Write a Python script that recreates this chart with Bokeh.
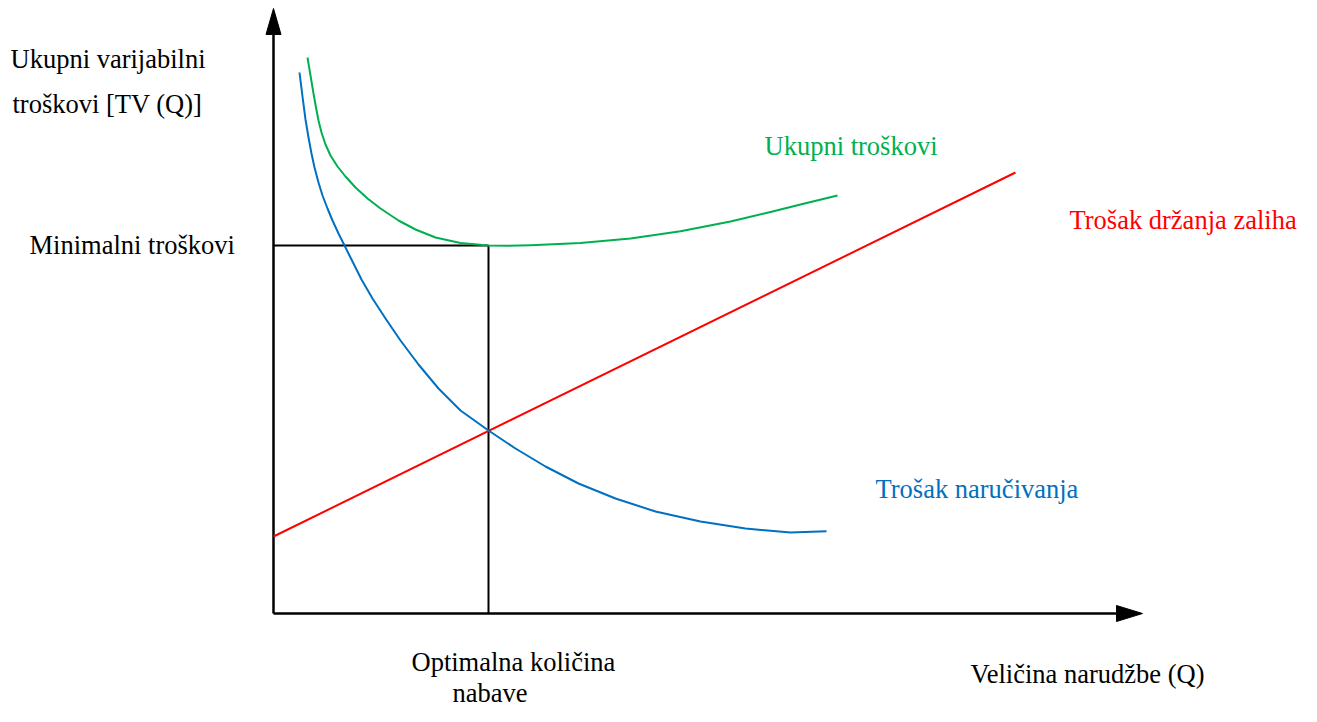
from bokeh.plotting import figure
from bokeh.models import Range1d
from bokeh.embed import file_html
from bokeh.resources import INLINE
from bokeh.core.properties import value

# ---- data (Q = order quantity, cost in arbitrary units) ----
order_q = [2.6, 2.9, 3.2, 3.5, 3.8, 4.1, 4.5, 4.9, 5.4, 5.9, 6.5, 7.1, 7.9, 8.8, 9.9,
           11.2, 12.7, 14.5, 16.5, 18.7, 21.5, 24.2, 27.2, 30.5, 34.2, 38.2, 42.7,
           47.2, 51.7, 55.3]
order_cost = [54.1, 51.7, 49.4, 47.6, 46.0, 44.6, 43.1, 41.8, 40.5, 39.3, 38.0, 36.8,
              35.2, 33.4, 31.5, 29.5, 27.3, 24.9, 22.5, 20.3, 18.3, 16.5, 14.7, 13.0,
              11.5, 10.2, 9.2, 8.5, 8.1, 8.23]

hold_q = [0.0, 74.2]
hold_cost = [7.7, 44.1]

total_q = [3.4, 3.7, 4.0, 4.25, 4.5, 4.8, 5.2, 5.7, 6.4, 7.2, 8.2, 9.4, 10.7, 12.5,
           14.2, 16.2, 18.7, 21.5, 23.5, 25.7, 30.7, 35.7, 40.7, 45.7, 49.7, 52.7, 56.4]
total_cost = [55.6, 53.8, 52.0, 50.6, 49.3, 48.1, 46.9, 45.8, 44.7, 43.7, 42.6, 41.5,
              40.5, 39.3, 38.4, 37.6, 37.05, 36.8, 36.78, 36.83, 37.04, 37.51, 38.23,
              39.2, 40.15, 40.9, 41.8]

opt_q = 21.5
min_cost = 36.8

labels = ["Ukupni varijabilni", "troškovi [TV (Q)]", "Minimalni troškovi",
          "Ukupni troškovi", "Trošak držanja zaliha", "Trošak naručivanja",
          "Optimalna količina", "nabave", "Veličina narudžbe (Q)"]
label_x = [-26.3, -26.1, -24.4, 49.1, 79.6, 60.2, 13.8, 17.9, 69.7]
label_y = [55.5, 51.0, 36.9, 46.8, 39.4, 12.5, -4.8, -7.9, -6.0]
label_colors = ["black", "black", "black", "#00B050", "#FF0000", "#0070C0",
                "black", "black", "black"]

GREEN = "#00B050"
BLUE = "#0070C0"
RED = "#FF0000"

p = figure(width=1301, height=706, output_backend="svg", toolbar_location=None,
           x_range=Range1d(-27.3, 102.8), y_range=Range1d(-9.3, 61.3),
           min_border=0)
p.axis.visible = False
p.grid.visible = False
p.outline_line_color = None
p.background_fill_color = "white"
p.border_fill_color = "white"

# axes
y_top = 60.5
x_end = 86.9
p.line([0, 0], [0, 58.0], line_color="black", line_width=2.5)
p.line([0, 84.5], [0, 0], line_color="black", line_width=2.5)
p.patch([-0.75, 0.75, 0.0], [57.9, 57.9, y_top], fill_color="black", line_color="black")
p.patch([84.3, 84.3, x_end], [-0.8, 0.8, 0.0], fill_color="black", line_color="black")

# guide lines
p.line([0, opt_q], [min_cost, min_cost], line_color="black", line_width=2)
p.line([opt_q, opt_q], [0, min_cost], line_color="black", line_width=2)

# curves
p.line(hold_q, hold_cost, line_color=RED, line_width=2)
p.line(order_q, order_cost, line_color=BLUE, line_width=2, line_join="round")
p.line(total_q, total_cost, line_color=GREEN, line_width=2, line_join="round")

# labels
p.text(x=label_x, y=label_y, text=labels, text_color=label_colors,
       text_font=value("Liberation Serif"), text_font_size="26.5px",
       text_baseline="alphabetic", text_align="left")

open("out.html", "w").write(file_html(p, INLINE))
